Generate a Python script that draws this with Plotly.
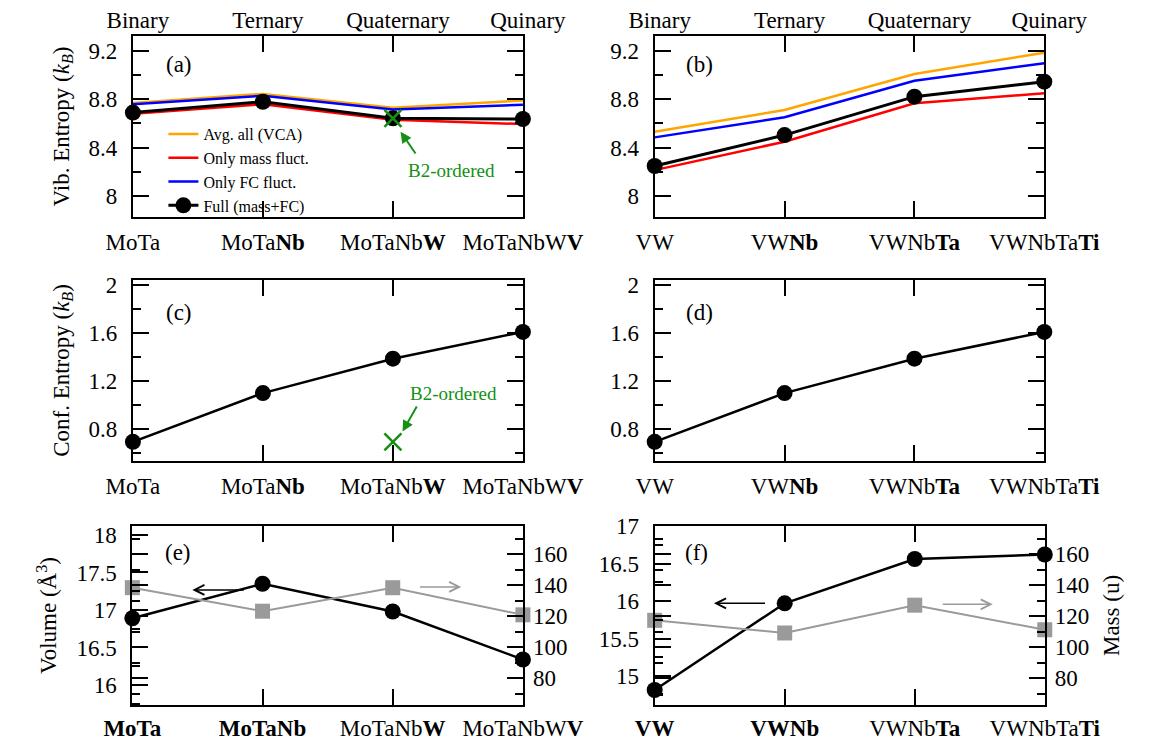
import plotly.graph_objects as go

# ---------------- data ----------------
order_labels = ["Binary", "Ternary", "Quaternary", "Quinary"]
categories_mo = ["MoTa", "MoTa<b>Nb</b>", "MoTaNb<b>W</b>", "MoTaNbW<b>V</b>"]
categories_v = ["VW", "VW<b>Nb</b>", "VWNb<b>Ta</b>", "VWNbTa<b>Ti</b>"]
categories_mo_e = ["<b>MoTa</b>", "<b>MoTaNb</b>", "MoTaNb<b>W</b>", "MoTaNbW<b>V</b>"]
categories_v_f = ["<b>VW</b>", "<b>VWNb</b>", "VWNb<b>Ta</b>", "VWNbTa<b>Ti</b>"]

vib_mo_vca = [8.77, 8.845, 8.73, 8.79]
vib_mo_mass = [8.68, 8.76, 8.63, 8.595]
vib_mo_fc = [8.76, 8.83, 8.715, 8.755]
vib_mo_full = [8.69, 8.78, 8.643, 8.637]
b2_vib = [8.643]

vib_v_vca = [8.532, 8.711, 9.01, 9.186]
vib_v_mass = [8.214, 8.449, 8.767, 8.85]
vib_v_fc = [8.485, 8.651, 8.954, 9.098]
vib_v_full = [8.248, 8.504, 8.822, 8.946]

conf_mo = [0.693, 1.099, 1.386, 1.609]
conf_v = [0.693, 1.099, 1.386, 1.609]
b2_conf = [0.693]

vol_mo = [16.89, 17.35, 16.98, 16.34]
mass_mo = [138.45, 123.27, 138.41, 120.92]
vol_v = [14.815, 15.97, 16.56, 16.62]
mass_v = [117.39, 109.23, 127.16, 111.30]

# ---------------- style ----------------
FONT = "Liberation Serif"
W, H = 1172, 741
ORANGE, RED, BLUE, GREEN, GRAY = "#FFA500", "#FF0000", "#0000FF", "#149014", "#9A9A9A"
FS = 23


def xd(a, b):
    return [a / W, b / W]


def yd(top, bot):
    return [1 - bot / H, 1 - top / H]


xpos = list(range(4))
fig = go.Figure()


def line(x, y, color, width, name=None, xa="x", ya="y", marker=None, show=False, rank=None):
    kw = dict(x=x, y=y, mode="lines", line=dict(color=color, width=width),
              xaxis=xa, yaxis=ya, showlegend=show, name=name, cliponaxis=False,
              hoverinfo="skip")
    if marker is not None:
        kw["mode"] = "lines+markers"
        kw["marker"] = marker
    if rank is not None:
        kw["legendrank"] = rank
    fig.add_trace(go.Scatter(**kw))


circ = dict(symbol="circle", size=16, color="black")
sq = dict(symbol="square", size=15, color=GRAY)
xmark = dict(symbol="x-thin", size=17, line=dict(color=GREEN, width=2.5))

# (a)
line(xpos, vib_mo_vca, ORANGE, 2.5, "Avg. all (VCA)", "x", "y", show=True, rank=1)
line(xpos, vib_mo_fc, BLUE, 2.5, "Only FC fluct.", "x", "y", show=True, rank=3)
line(xpos, vib_mo_mass, RED, 2.5, "Only mass fluct.", "x", "y", show=True, rank=2)
line(xpos, vib_mo_full, "black", 3, "Full (mass+FC)", "x", "y", marker=circ, show=True, rank=4)
fig.add_trace(go.Scatter(x=[2], y=b2_vib, mode="markers", xaxis="x", yaxis="y", marker=xmark,
                         showlegend=False, cliponaxis=False, hoverinfo="skip"))
# (b)
line(xpos, vib_v_vca, ORANGE, 2.5, None, "x2", "y2")
line(xpos, vib_v_fc, BLUE, 2.5, None, "x2", "y2")
line(xpos, vib_v_mass, RED, 2.5, None, "x2", "y2")
line(xpos, vib_v_full, "black", 3, None, "x2", "y2", marker=circ)
# (c)
line(xpos, conf_mo, "black", 2.5, None, "x3", "y3", marker=circ)
fig.add_trace(go.Scatter(x=[2], y=b2_conf, mode="markers", xaxis="x3", yaxis="y3", marker=xmark,
                         showlegend=False, cliponaxis=False, hoverinfo="skip"))
# (d)
line(xpos, conf_v, "black", 2.5, None, "x4", "y4", marker=circ)
# (e)
line(xpos, mass_mo, GRAY, 2, None, "x5", "y7", marker=sq)
line(xpos, vol_mo, "black", 2.5, None, "x5", "y5", marker=circ)
# (f)
line(xpos, mass_v, GRAY, 2, None, "x6", "y8", marker=sq)
line(xpos, vol_v, "black", 2.5, None, "x6", "y6", marker=circ)

# dummy traces so the top category axes are drawn
for xa, ya, yv in (("x7", "y", 8.5), ("x8", "y2", 8.5)):
    fig.add_trace(go.Scatter(x=[0, 3], y=[yv, yv], mode="markers", marker=dict(opacity=0),
                             xaxis=xa, yaxis=ya, showlegend=False, hoverinfo="skip"))

tickfont = dict(family=FONT, size=FS, color="black")
base = dict(showline=True, linecolor="black", linewidth=2, ticks="inside", ticklen=16,
            tickwidth=1.5, tickcolor="black", tickfont=tickfont, showgrid=False,
            zeroline=False, automargin=False)


def xaxis(dom, labels, anchor, standoff=3):
    return dict(base, domain=dom, range=[0, 3], tickvals=xpos, ticktext=labels,
                mirror="ticks", anchor=anchor, ticklabelstandoff=standoff)


def topaxis(over, anchor):
    return dict(overlaying=over, side="top", anchor=anchor, range=[0, 3], tickvals=xpos,
                ticktext=order_labels, showline=False, ticks="", showgrid=False,
                zeroline=False, tickfont=tickfont, ticklabelstandoff=2, ticklabelshift=5)


def yaxis(dom, rng, dtick, tick0, mdtick, anchor, title=None, mirror="ticks", standoff=13):
    d = dict(base, domain=dom, range=rng, dtick=dtick, tick0=tick0, anchor=anchor,
             mirror=mirror, ticklabelstandoff=9,
             minor=dict(dtick=mdtick, tick0=tick0, ticks="inside", ticklen=8,
                        tickwidth=1.5, tickcolor="black", showgrid=False))
    if title:
        d["title"] = dict(text=title, font=dict(family=FONT, size=FS, color="black"),
                          standoff=standoff)
    return d


dA, dB = xd(113.6, 528), xd(668, 1082)
r1, r2, r3 = yd(36, 217), yd(280, 461), yd(526, 705)
kB = "(<i>k</i><sub><i>B</i></sub>)"

fig.update_layout(
    width=W, height=H, margin=dict(l=0, r=0, t=0, b=0), autosize=False,
    paper_bgcolor="white", plot_bgcolor="white",
    font=dict(family=FONT, size=20, color="black"),
    xaxis=xaxis(dA, categories_mo, "y"),
    xaxis2=xaxis(dB, categories_v, "y2"),
    xaxis3=xaxis(dA, categories_mo, "y3"),
    xaxis4=xaxis(dB, categories_v, "y4"),
    xaxis5=xaxis(xd(113, 528), categories_mo_e, "y5", standoff=1),
    xaxis6=xaxis(xd(668, 1082.5), categories_v_f, "y6", standoff=1),
    xaxis7=topaxis("x", "y"),
    xaxis8=topaxis("x2", "y2"),
    yaxis=yaxis(r1, [7.826, 9.324], 0.4, 8, 0.2, "x", "Vib. Entropy " + kB),
    yaxis2=yaxis(r1, [7.826, 9.324], 0.4, 8, 0.2, "x2"),
    yaxis3=yaxis(r2, [0.533, 2.042], 0.4, 0.8, 0.2, "x3", "Conf. Entropy " + kB),
    yaxis4=yaxis(r2, [0.533, 2.042], 0.4, 0.8, 0.2, "x4"),
    yaxis5=yaxis(r3, [15.733, 18.12], 0.5, 16, 0.25, "x5", "Volume (Å<sup>3</sup>)", mirror=True),
    yaxis6=yaxis(r3, [14.615, 17.0], 0.5, 15, 0.25, "x6", None, mirror=True),
    yaxis7=dict(yaxis(r3, [62.8, 178.2], 20, 80, 10, "x5"), overlaying="y5", side="right",
                showline=False),
    yaxis8=dict(yaxis(r3, [62.8, 178.2], 20, 80, 10, "x6", "Mass (u)", standoff=14),
                overlaying="y6", side="right", showline=False),
    legend=dict(x=146 / W, y=1 - 117 / H, xanchor="left", yanchor="top",
                bgcolor="rgba(0,0,0,0)", font=dict(family=FONT, size=16, color="black"),
                itemwidth=30, tracegroupgap=0),
)

ann = []
for lab, xr, yr, fx, fy in (("(a)", "x", "y", 0.118, 0.84), ("(b)", "x2", "y2", 0.114, 0.84),
                            ("(c)", "x3", "y3", 0.118, 0.82), ("(d)", "x4", "y4", 0.114, 0.82),
                            ("(e)", "x5", "y5", 0.118, 0.85), ("(f)", "x6", "y6", 0.107, 0.85)):
    ann.append(dict(text=lab, xref=xr + " domain", yref=yr + " domain", x=fx, y=fy,
                    xanchor="center", yanchor="middle", showarrow=False,
                    font=dict(family=FONT, size=FS, color="black")))

green_font = dict(family=FONT, size=19, color=GREEN)
# B2 labels + arrows
ann.append(dict(text="B2-ordered", xref="x", yref="y", x=2.454, y=8.215, xanchor="center",
                yanchor="middle", showarrow=False, font=green_font))
ann.append(dict(text="", xref="x", yref="y", x=2.059, y=8.532, ax=2.182, ay=8.339,
                axref="x", ayref="y", showarrow=True, arrowhead=2, arrowsize=1.1,
                arrowwidth=2, arrowcolor=GREEN))
ann.append(dict(text="B2-ordered", xref="x3", yref="y3", x=2.468, y=1.0975, xanchor="center",
                yanchor="middle", showarrow=False, font=green_font))
ann.append(dict(text="", xref="x3", yref="y3", x=2.074, y=0.778, ax=2.19, ay=1.0,
                axref="x3", ayref="y3", showarrow=True, arrowhead=2, arrowsize=1.1,
                arrowwidth=2, arrowcolor=GREEN))
# axis pointer arrows (e), (f)
for xr, yr, hx, tx, yy, col in (("x5", "y5", 0.461, 0.868, 17.267, "black"),
                                ("x5", "y5", 2.526, 2.198, 17.307, GRAY),
                                ("x6", "y6", 0.456, 0.860, 15.97, "black"),
                                ("x6", "y6", 2.600, 2.204, 15.956, GRAY)):
    ann.append(dict(text="", xref=xr, yref=yr, x=hx, y=yy, ax=tx, ay=yy, axref=xr, ayref=yr,
                    showarrow=True, arrowhead=5, arrowsize=1.3, arrowwidth=1.5, arrowcolor=col))

fig.update_layout(annotations=ann)
fig.write_html("out.html")
